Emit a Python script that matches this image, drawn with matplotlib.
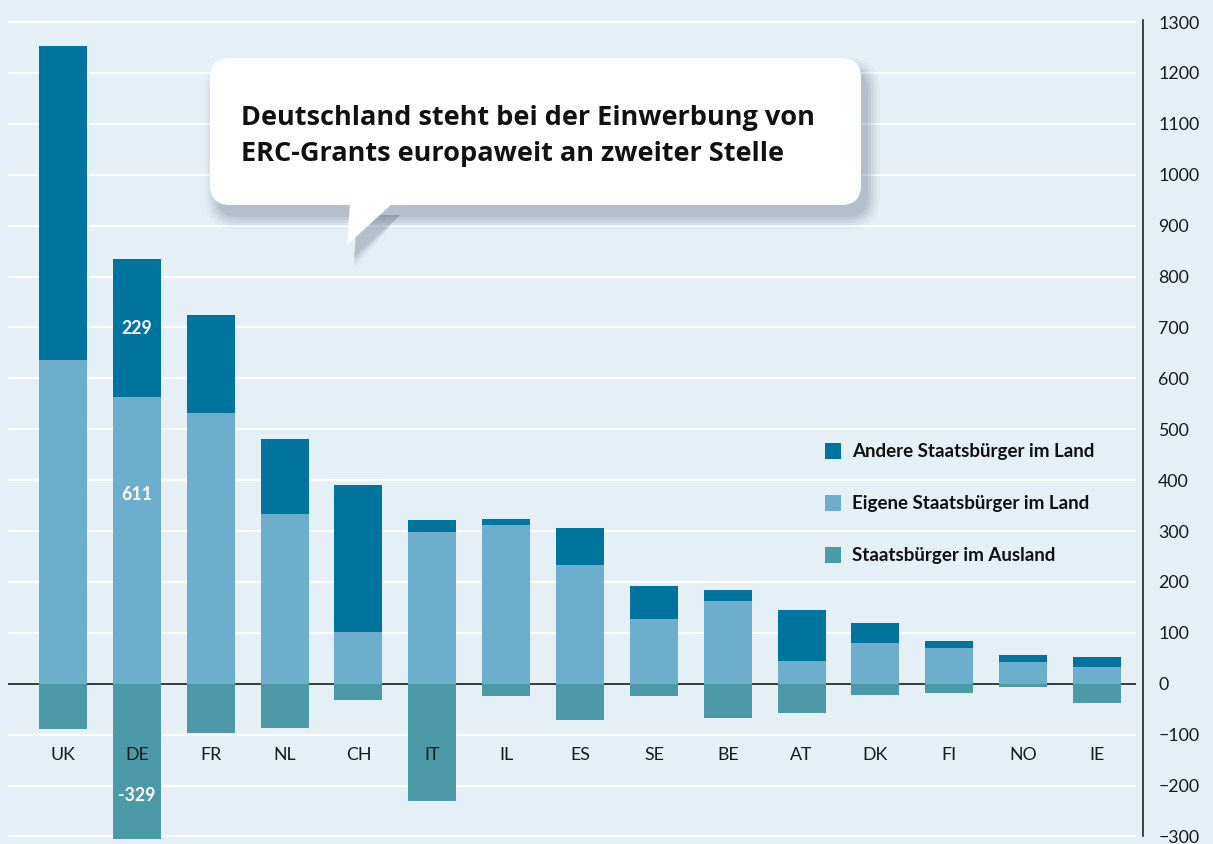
import matplotlib
matplotlib.use("Agg")
import matplotlib.pyplot as plt
import numpy as np
from matplotlib.patches import FancyBboxPatch, Polygon, Rectangle
from matplotlib.transforms import Affine2D

# ---------------- data ----------------
countries = ["UK", "DE", "FR", "NL", "CH", "IT", "IL", "ES", "SE", "BE", "AT", "DK", "FI", "NO", "IE"]
eigene = [636, 563, 532, 334, 102, 298, 312, 234, 127, 162, 45, 80, 70, 43, 33]      # Eigene Staatsbürger im Land
andere = [616, 271, 192, 147, 289, 24, 12, 72, 65, 22, 100, 39, 14, 13, 19]          # Andere Staatsbürger im Land
ausland = [-88, -329, -96, -86, -31, -231, -25, -72, -25, -67, -57, -22, -18, -6, -37]  # Staatsbürger im Ausland
yticks = [-300, -200, -100, 0, 100, 200, 300, 400, 500, 600, 700, 800, 900, 1000, 1100, 1200, 1300]
legend_labels = ["Andere Staatsbürger im Land", "Eigene Staatsbürger im Land", "Staatsbürger im Ausland"]
de_labels = ["229", "611", "-329"]
title = "Deutschland steht bei der Einwerbung von\nERC-Grants europaweit an zweiter Stelle"

# ---------------- style ----------------
BG = "#E4EFF6"
C_DARK = "#00749F"
C_LIGHT = "#6EAECD"
C_TEAL = "#4C9AA8"
FONT = "Lato"
plt.rcParams["font.family"] = [FONT, "DejaVu Sans"]

W, H = 1213, 844
fig = plt.figure(figsize=(W / 100, H / 100), dpi=100, facecolor=BG)

# pixel transform (origin top-left)
PX = Affine2D().scale(1, -1).translate(0, H).scale(0.01) + fig.dpi_scale_trans

ax_left, ax_right, ax_top, ax_bottom = 8, 1143, 20, 839
ax = fig.add_axes([ax_left / W, (H - ax_bottom) / H, (ax_right - ax_left) / W, (ax_bottom - ax_top) / H])
ax.set_facecolor(BG)

x = np.arange(len(countries))
spacing = 73.86
x0 = 63
xl = (ax_left - x0) / spacing
xr = (ax_right - x0) / spacing
grid_end = (1136 - x0) / spacing
ax.set_xlim(xl, xr)
ax.set_ylim(-305, 1304)

# gridlines
for t in yticks:
    if t == 0:
        continue
    ax.hlines(t, xl, grid_end, color="white", lw=1.6, zorder=0)
ax.hlines(0, xl, grid_end, color="#3a3a3a", lw=1.4, zorder=1)

bw = 0.65
ax.bar(x, eigene, width=bw, color=C_LIGHT, zorder=2)
ax.bar(x, andere, width=bw, bottom=eigene, color=C_DARK, zorder=2)
ax.bar(x, ausland, width=bw, color=C_TEAL, zorder=2)

# spines / ticks
for s in ["left", "top", "bottom"]:
    ax.spines[s].set_visible(False)
ax.spines["right"].set_bounds(-300, 1304)
ax.spines["right"].set_color("#111111")
ax.spines["right"].set_linewidth(1.1)
ax.yaxis.tick_right()
ax.set_yticks(yticks)
ax.tick_params(axis="y", length=0, pad=11, labelsize=12.8, labelcolor="#1a1a1a")
ax.set_xticks([])

# category labels
for xi, c in zip(x, countries):
    ax.text(xi, -140, c, ha="center", va="center", fontsize=12.8, color="#1a1a1a", zorder=3)

# DE value labels
de = countries.index("DE")
ax.text(de, eigene[de] + andere[de] / 2, de_labels[0], ha="center", va="center",
        fontsize=12.8, fontweight="bold", color="white", zorder=3)
ax.text(de, 371, de_labels[1], ha="center", va="center",
        fontsize=12.8, fontweight="bold", color="white", zorder=3)
ax.text(de, -219, de_labels[2], ha="center", va="center",
        fontsize=12.8, fontweight="bold", color="white", zorder=3)

# legend (manual)
colors = [C_DARK, C_LIGHT, C_TEAL]
rows = [451, 503, 555]
for lab, col, yy in zip(legend_labels, colors, rows):
    fig.add_artist(Rectangle((825, yy - 8), 16, 16, transform=PX, facecolor=col, edgecolor="none", zorder=5))
    fig.text(852 / W, 1 - yy / H, lab, ha="left", va="center", fontsize=13.5, fontweight="bold",
             color="#111111", zorder=5)

# speech bubble with soft shadow
bx0, by0, bx1, by1 = 210, 58, 861, 205
tail = [(350, by1 - 2), (393, by1 - 2), (347, 245)]
for i, (grow, a) in enumerate([(12, 0.04), (9, 0.06), (6, 0.08), (3, 0.10), (0, 0.12)]):
    dx, dy = 7, 12
    fig.add_artist(FancyBboxPatch((bx0 + dx - grow, by0 + dy - grow), bx1 - bx0 + 2 * grow, by1 - by0 + 2 * grow,
                                  boxstyle="round,pad=0,rounding_size=%d" % (20 + grow), transform=PX,
                                  facecolor="#5a6a80", edgecolor="none", alpha=a, zorder=6))
    fig.add_artist(Polygon([(px + dx, py + dy + (grow if k == 2 else 0)) for k, (px, py) in enumerate(tail)],
                           closed=True, transform=PX, facecolor="#5a6a80", edgecolor="none", alpha=a, zorder=6))
fig.add_artist(FancyBboxPatch((bx0, by0), bx1 - bx0, by1 - by0, boxstyle="round,pad=0,rounding_size=20",
                              transform=PX, facecolor="white", edgecolor="none", zorder=7))
fig.add_artist(Polygon(tail, closed=True, transform=PX, facecolor="white", edgecolor="none", zorder=7))
fig.text(241 / W, 1 - 136 / H, title, ha="left", va="center", fontsize=19.5, fontweight="bold",
         family=["Open Sans", "DejaVu Sans"], color="#111111", linespacing=1.5, zorder=8)

fig.savefig("out.png", dpi=100, facecolor=BG)
